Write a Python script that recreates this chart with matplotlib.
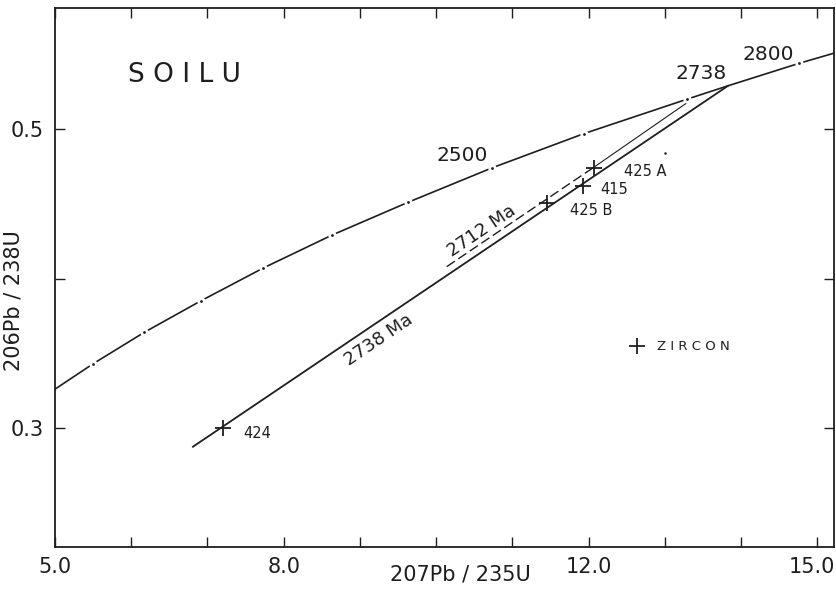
import matplotlib
matplotlib.use("Agg")
import matplotlib.pyplot as plt
import matplotlib.transforms as mtransforms

# concordia curve (207Pb/235U, 206Pb/238U), age ticks every 100 Ma
conc_x = [5.00, 5.50, 6.17, 6.91, 7.73, 8.63, 9.63, 10.73, 11.94, 13.29, 13.83, 14.76, 15.30]
conc_y = [0.326, 0.343, 0.364, 0.385, 0.407, 0.429, 0.451, 0.474, 0.497, 0.520, 0.529, 0.544, 0.552]
tick_x = [5.50, 6.17, 6.91, 7.73, 8.63, 9.63, 10.73, 11.94, 13.29, 14.76]
tick_y = [0.343, 0.364, 0.385, 0.407, 0.429, 0.451, 0.474, 0.497, 0.520, 0.544]

# discordia lines
disc2738_x = [6.81, 13.83]
disc2738_y = [0.2875, 0.529]
disc2712_dash_x = [10.14, 12.07]
disc2712_dash_y = [0.408, 0.4745]
disc2712_line_x = [12.07, 13.33]
disc2712_line_y = [0.4745, 0.519]

# zircon analyses
samples = ["424", "425 B", "415", "425 A"]
samp_x = [7.21, 11.45, 11.93, 12.07]
samp_y = [0.300, 0.4503, 0.4619, 0.4737]
stray_x = [13.0]
stray_y = [0.484]

xticks = [5, 6, 7, 8, 9, 10, 11, 12, 13, 14, 15]
xlabels = ["5.0", "", "", "8.0", "", "", "", "12.0", "", "", "15.0"]
yticks = [0.3, 0.4, 0.5]
ylabels = ["0.3", "", "0.5"]

ink = "#1e1e1e"
plt.rcParams["font.family"] = ["DejaVu Sans"]

fig = plt.figure(figsize=(8.37, 5.89), dpi=100)
ax = fig.add_axes([0.0657, 0.0713, 0.9307, 0.915])
ax.set_xlim(5.0, 15.22)
ax.set_ylim(0.2204, 0.581)

# concordia with small gaps + dots at the age ticks
ax.plot(conc_x, conc_y, color=ink, lw=1.2, zorder=2)
ax.plot(tick_x, tick_y, "o", ms=6, mfc="white", mec="none", zorder=3)
ax.plot(tick_x, tick_y, "o", ms=2.0, mfc=ink, mec="none", zorder=4)

ax.plot(disc2738_x, disc2738_y, color=ink, lw=1.3, zorder=2)
ax.plot(disc2712_dash_x, disc2712_dash_y, color=ink, lw=1.0, ls=(0, (7, 3)), zorder=2)
ax.plot(disc2712_line_x, disc2712_line_y, color=ink, lw=0.8, zorder=2)

ax.plot(samp_x, samp_y, "+", ms=12, mew=1.3, color=ink, zorder=5)
ax.plot(stray_x, stray_y, "o", ms=1.8, color=ink, mec="none")

# sample labels
offs = [(0.45, -0.0035), (0.58, -0.0045), (0.40, -0.0020), (0.68, -0.0020)]
for name, x, y, (dx, dy) in zip(samples, samp_x, samp_y, offs):
    ax.text(x + dx, y + dy, name, fontsize=10.5, color=ink, ha="center", va="center")

ax.text(5.96, 0.536, "S O I L U", fontsize=19, color=ink, ha="left", va="center")
ax.text(10.34, 0.4826, "2500", fontsize=14.5, color=ink, ha="center", va="center")
ax.text(13.48, 0.5375, "2738", fontsize=14.5, color=ink, ha="center", va="center")
ax.text(14.36, 0.550, "2800", fontsize=14.5, color=ink, ha="center", va="center")
ax.text(10.60, 0.4316, "2712 Ma", fontsize=13, color=ink, ha="center", va="center",
        rotation=34, rotation_mode="anchor")
ax.text(9.24, 0.359, "2738 Ma", fontsize=13, color=ink, ha="center", va="center",
        rotation=34, rotation_mode="anchor")

ax.plot([12.63], [0.3548], "+", ms=12, mew=1.3, color=ink)
ax.text(12.9, 0.3548, "Z I R C O N", fontsize=9.5, color=ink, ha="left", va="center")

ax.set_xticks(xticks)
ax.set_xticklabels(xlabels)
ax.set_yticks(yticks)
ax.set_yticklabels(ylabels)
ax.tick_params(direction="in", length=7, width=1.0, colors=ink, labelsize=15,
               top=True, right=True)
ax.tick_params(axis="x", pad=7)
ax.tick_params(axis="y", pad=8)
# last x label sits a little to the left, as in the original
last = ax.get_xticklabels()[-1]
last.set_transform(last.get_transform() + mtransforms.ScaledTranslation(-5 / 100, 0, fig.dpi_scale_trans))
for s in ax.spines.values():
    s.set_linewidth(1.3)
    s.set_color(ink)

fig.text(0.55, 0.024, "207Pb / 235U", fontsize=15, color=ink, ha="center", va="center")
fig.text(0.016, 0.49, "206Pb / 238U", fontsize=15, color=ink, ha="center", va="center",
         rotation=90)

fig.savefig("out.png", dpi=100)
